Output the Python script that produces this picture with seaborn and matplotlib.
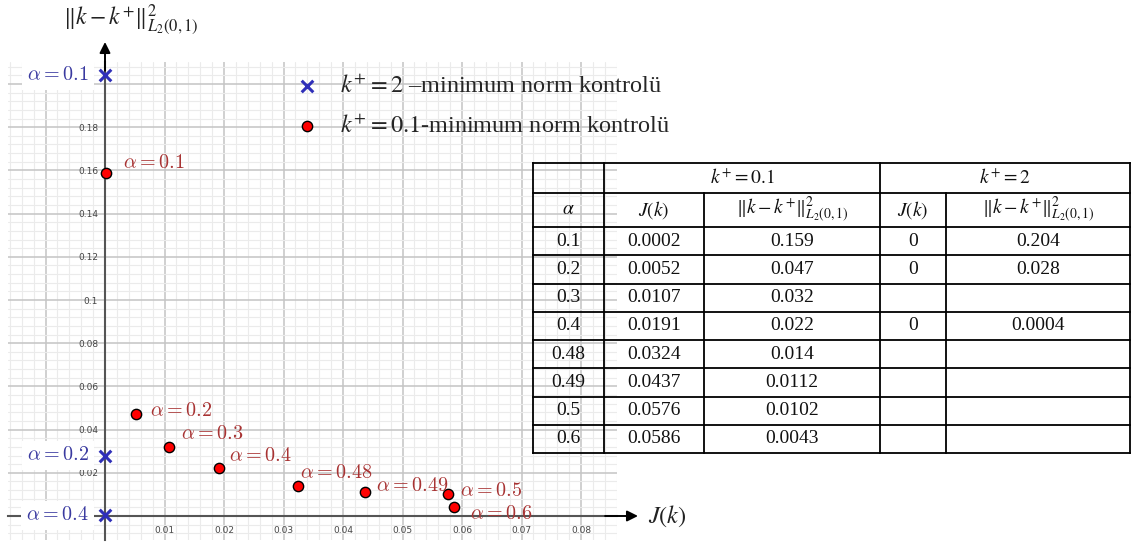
import numpy as np
import seaborn as sns
import matplotlib.pyplot as plt
from matplotlib.ticker import MultipleLocator, FuncFormatter

# k+ = 0.1 series
alpha_01 = [0.1, 0.2, 0.3, 0.4, 0.48, 0.49, 0.5, 0.6]
J_01 = [0.0002, 0.0052, 0.0107, 0.0191, 0.0324, 0.0437, 0.0576, 0.0586]
norm_01 = [0.159, 0.047, 0.032, 0.022, 0.014, 0.0112, 0.0102, 0.0043]

# k+ = 2 series
alpha_2 = [0.1, 0.2, 0.4]
J_2 = [0, 0, 0]
norm_2 = [0.204, 0.028, 0.0004]

legend_labels = [r"$k^{+}=2$ –minimum norm kontrolü",
                 r"$k^{+}=0.1$-minimum norm kontrolü"]

sns.set_theme(style="white")
plt.rcParams["font.family"] = ["Liberation Serif", "DejaVu Serif"]
plt.rcParams["mathtext.fontset"] = "stix"

W, H = 1131, 549
fig = plt.figure(figsize=(W / 100, H / 100), dpi=100)

# plot area in pixels: grid from x=8..617, y=62..540, origin at (105, 516)
ax = fig.add_axes([8 / W, (H - 540) / H, 609 / W, 478 / H])
xpx, ypx = 5950.0, 2160.0
ax.set_xlim((8 - 105) / xpx, (617 - 105) / xpx)
ax.set_ylim((516 - 540) / ypx, (516 - 62) / ypx)

ax.xaxis.set_major_locator(MultipleLocator(0.01))
ax.xaxis.set_minor_locator(MultipleLocator(0.002))
ax.yaxis.set_major_locator(MultipleLocator(0.02))
ax.yaxis.set_minor_locator(MultipleLocator(0.004))
ax.grid(which="major", color="#c4c4c4", lw=1.1)
ax.grid(which="minor", color="#ebebeb", lw=0.8)
ax.set_axisbelow(True)

ax.xaxis.set_major_formatter(FuncFormatter(lambda v, p: "" if v <= 1e-9 else f"{v:g}"))
ax.yaxis.set_major_formatter(
    FuncFormatter(lambda v, p: "" if v <= 1e-9 or v > 0.19 else f"{v:g}"))
ax.tick_params(which="both", length=0, labelsize=6.5, labelcolor="#444",
               labelfontfamily="DejaVu Sans")
ax.tick_params(axis="x", pad=7)
ax.tick_params(axis="y", pad=5)

for s in ["top", "right"]:
    ax.spines[s].set_visible(False)
ax.spines["left"].set_position(("data", 0))
ax.spines["bottom"].set_position(("data", 0))
for s in ["left", "bottom"]:
    ax.spines[s].set_color("#555")
    ax.spines[s].set_linewidth(1.5)

# axis arrows
xl, yl = ax.get_xlim(), ax.get_ylim()
ax.annotate("", xy=((638 - 105) / xpx, 0), xytext=(xl[1] - 0.002, 0),
            arrowprops=dict(arrowstyle="-|>", color="black", lw=1.4,
                            mutation_scale=16, shrinkA=0, shrinkB=0),
            annotation_clip=False)
ax.annotate("", xy=(0, (516 - 42) / ypx), xytext=(0, yl[1] - 0.004),
            arrowprops=dict(arrowstyle="-|>", color="black", lw=1.4,
                            mutation_scale=16, shrinkA=0, shrinkB=0),
            annotation_clip=False)

blue = "#2f2fb8"
red_txt = "#a83333"
blue_txt = "#3a3aa0"

sns.scatterplot(x=J_2, y=norm_2, ax=ax, marker="x", color=blue, s=70,
                linewidth=2.2, zorder=6, label=legend_labels[0], clip_on=False)
sns.scatterplot(x=J_01, y=norm_01, ax=ax, color="#ff0000", edgecolor="black",
                s=55, linewidth=1.0, zorder=6, label=legend_labels[1])

# point labels (offsets in pixels)
red_offsets = [(17, 9), (14, 3), (12, 12), (10, 12), (2, 12), (11, 5),
               (12, 2), (16, -8)]
for a, xv, yv, off in zip(alpha_01, J_01, norm_01, red_offsets):
    ax.annotate(rf"$\alpha = {a:g}$", (xv, yv), xytext=off,
                textcoords="offset pixels", ha="left", va="center",
                fontsize=14.5, color=red_txt, math_fontfamily="cm", zorder=7)
for a, xv, yv in zip(alpha_2, J_2, norm_2):
    ax.annotate(rf"$\alpha = {a:g}$", (xv, yv), xytext=(-16, 0),
                textcoords="offset pixels", ha="right", va="center",
                fontsize=14.5, color=blue_txt, math_fontfamily="cm", zorder=5,
                bbox=dict(boxstyle="square,pad=0.25", fc="white", ec="none"))

leg = ax.legend(loc="center left", bbox_to_anchor=(295 / W, 1 - 106.5 / H),
                bbox_transform=fig.transFigure, frameon=False, fontsize=17.5,
                handlelength=1.0, handletextpad=0.85, borderpad=0,
                borderaxespad=0, labelspacing=0.75)

# axis titles
fig.text(131 / W, 1 - 20 / H, r"$\|k-k^{+}\|^{2}_{L_{2}(0,1)}$",
         ha="center", va="center", fontsize=17, color="#222")
fig.text(648 / W, 1 - 516 / H, r"$J(k)$", ha="left", va="center",
         fontsize=17.5, color="#222")

# table
tax = fig.add_axes([533 / W, 1 - 454 / H, 598 / W, 292 / H])
tax.set_xlim(533, 1131)
tax.set_ylim(454, 162)
tax.axis("off")
cols = [533, 604, 704, 880, 946, 1130]
rows = [163, 193, 227] + [227 + 28.25 * (i + 1) for i in range(len(alpha_01))]
lk = dict(color="black", lw=1.3, clip_on=False, solid_capstyle="projecting")
for y in rows:
    tax.plot([cols[0], cols[-1]], [y, y], **lk)
for x in cols:
    top = rows[0] if x in (cols[0], cols[1], cols[3], cols[5]) else rows[1]
    tax.plot([x, x], [top, rows[-1]], **lk)

def cx(i):
    return (cols[i] + cols[i + 1]) / 2

def cy(j):
    return (rows[j] + rows[j + 1]) / 2

norm_hdr = r"$\|k-k^{+}\|^{2}_{L_{2}(0,1)}$"
tfont = dict(ha="center", va="center", fontsize=14, color="#111")
tax.text((cols[1] + cols[3]) / 2, cy(0), r"$k^{+}=0.1$", **tfont)
tax.text((cols[3] + cols[5]) / 2, cy(0), r"$k^{+}=2$", **tfont)
for i, s in enumerate([r"$\alpha$", r"$J(k)$", norm_hdr, r"$J(k)$", norm_hdr]):
    tax.text(cx(i), cy(1), s, **tfont)
for j, (a, jv, nv) in enumerate(zip(alpha_01, J_01, norm_01)):
    r = j + 2
    tax.text(cx(0), cy(r), f"{a:g}", **tfont)
    tax.text(cx(1), cy(r), str(jv), **tfont)
    tax.text(cx(2), cy(r), str(nv), **tfont)
    if a in alpha_2:
        k = alpha_2.index(a)
        tax.text(cx(3), cy(r), str(J_2[k]), **tfont)
        tax.text(cx(4), cy(r), str(norm_2[k]), **tfont)

fig.savefig("out.png", dpi=100)
